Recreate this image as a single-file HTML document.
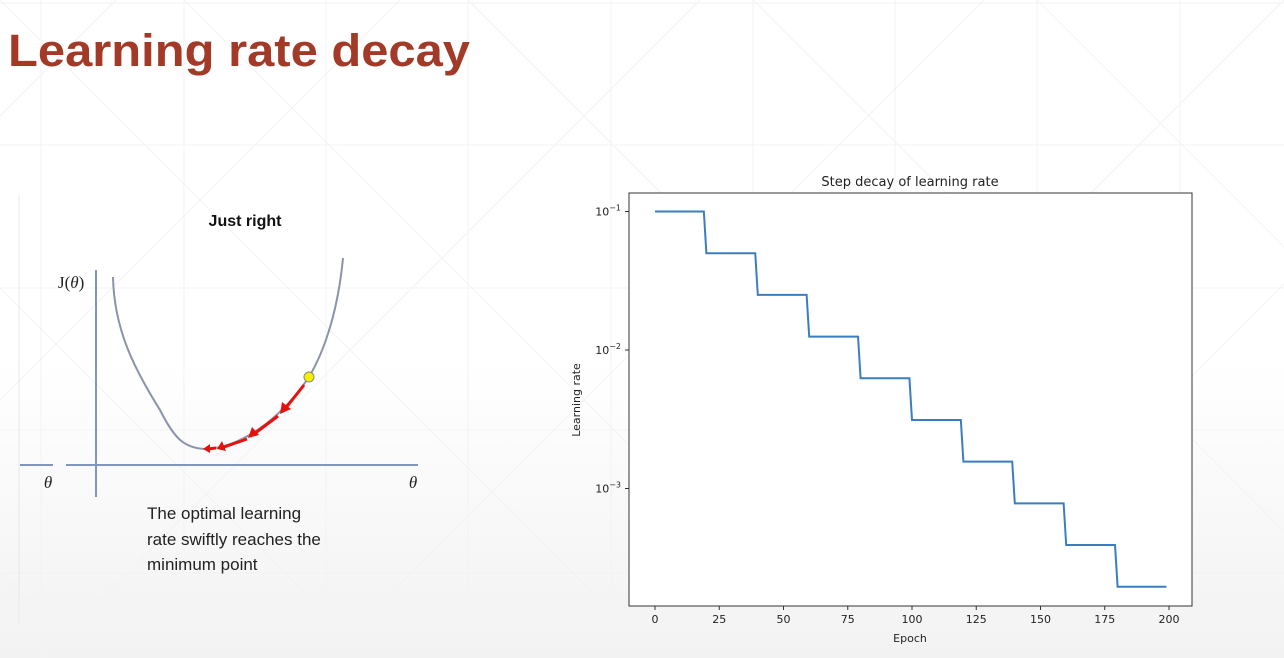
<!DOCTYPE html>
<html><head><meta charset="utf-8"><style>
html,body{margin:0;padding:0;width:1284px;height:658px;overflow:hidden}
body{position:relative;background:linear-gradient(#fff 0%,#fff 55%,#f2f2f2 100%);font-family:"Liberation Sans",sans-serif}
svg{position:absolute;left:0;top:0;display:block}
</style></head><body>
<svg width="1284" height="658">
  <g stroke="#f3f3f3" stroke-width="1" fill="none">
    <path d="M41 0V658M184 0V658M326 0V658M468 0V658M611 0V658M753 0V658M895 0V658M1037 0V658M1180 0V658M0 3H1284M0 145H1284M0 288H1284M0 430H1284M0 573H1284"/>
    <path d="M-100 -100L758 758M184 0L842 658M468 0L1126 658M753 0L1284 531M1037 0L1284 247M-100 188L370 658M-100 472L86 658M800 -100L42 658M1084 -100L326 658M1384 -100L626 658M1384 184L910 658M500 -100L-100 500M216 -100L-100 216"/>
  </g>
  <text x="8" y="66" font-size="45" font-weight="bold" fill="#a33a27" textLength="462" lengthAdjust="spacingAndGlyphs">Learning rate decay</text>

  <g>
    <line x1="19" y1="195" x2="19" y2="625" stroke="#e8e8e8"/>
    <text x="245" y="226" font-size="16" font-weight="bold" text-anchor="middle" fill="#111">Just right</text>
    <text x="58" y="288" font-size="17" font-family="Liberation Serif,serif" fill="#222">J(<tspan font-style="italic">θ</tspan>)</text>
    <line x1="96" y1="270" x2="96" y2="497" stroke="#8096bd" stroke-width="2"/>
    <line x1="66" y1="465" x2="418" y2="465" stroke="#8096bd" stroke-width="2"/>
    <line x1="20" y1="465" x2="53" y2="465" stroke="#8096bd" stroke-width="2"/>
    <text x="48" y="488" font-size="17" font-style="italic" font-family="Liberation Serif,serif" text-anchor="middle" fill="#222">θ</text>
    <text x="413" y="488" font-size="17" font-style="italic" font-family="Liberation Serif,serif" text-anchor="middle" fill="#222">θ</text>
    <path d="M113 277C114 330 135 370 160 410C175 440 185 448 205 449C240 448 280 420 309 377C325 350 338 310 343 258" fill="none" stroke="#8a93a8" stroke-width="2"/>
    <g stroke="#e8100c" stroke-width="3" fill="#e8100c">
      <line x1="304" y1="385" x2="285" y2="409"/><polygon points="280,414 282,402 291,409" stroke="none"/>
      <line x1="278" y1="416" x2="254" y2="434"/><polygon points="248,438 252,427 259,435" stroke="none"/>
      <line x1="247" y1="439" x2="224" y2="447"/><polygon points="217,449 222,441 226,451" stroke="none"/>
      <line x1="216" y1="448" x2="208" y2="449"/><polygon points="203,449 210,444 210,453" stroke="none"/>
    </g>
    <circle cx="309" cy="377" r="5" fill="#f5f000" stroke="#888" stroke-width="1"/>
    <text font-size="17" fill="#222">
      <tspan x="147" y="519">The optimal learning</tspan>
      <tspan x="147" y="545">rate swiftly reaches the</tspan>
      <tspan x="147" y="570">minimum point</tspan>
    </text>
  </g>

  <g id="chart">
    <rect x="629" y="193" width="563" height="413" fill="#fff" stroke="#333" stroke-width="1"/>
    <text x="910" y="186" font-size="13" text-anchor="middle" font-family="DejaVu Sans,sans-serif" fill="#222">Step decay of learning rate</text>
    <text transform="translate(580,400) rotate(-90)" font-size="11" text-anchor="middle" font-family="DejaVu Sans,sans-serif" fill="#222">Learning rate</text>
    <text x="910" y="642" font-size="11" text-anchor="middle" font-family="DejaVu Sans,sans-serif" fill="#222">Epoch</text>
  </g>
</svg>
<script>
const stepStarts=[0,20,40,60,80,100,120,140,160,180];
const stepRates=[0.1,0.05,0.025,0.0125,0.00625,0.003125,0.0015625,0.00078125,0.000390625,0.0001953125];
const lastEpoch=199;
const xTicks=[0,25,50,75,100,125,150,175,200];
const yTickExps=[-1,-2,-3];
const NS='http://www.w3.org/2000/svg';
const g=document.getElementById('chart');
const X=e=>655+e*(1169-655)/200;
const Y=v=>211.5+(-1-Math.log10(v))*138.5;
function mk(t,a){const el=document.createElementNS(NS,t);for(const k in a)el.setAttribute(k,a[k]);g.appendChild(el);return el;}
xTicks.forEach(t=>{
  const l=mk('line',{x1:X(t),x2:X(t),y1:606,y2:610,stroke:'#333'});
  
  
  const tx=mk('text',{x:X(t),y:623,'font-size':11,'text-anchor':'middle','font-family':'DejaVu Sans,sans-serif',fill:'#222'});
  tx.textContent=t;
  
  
});
yTickExps.forEach(e=>{
  const y=Y(Math.pow(10,e));
  const l=mk('line',{x1:625,x2:629,y1:y,y2:y,stroke:'#333'});
  
  
  const tx=mk('text',{x:621,y:y+4,'font-size':11,'text-anchor':'end','font-family':'DejaVu Sans,sans-serif',fill:'#222'});
  tx.innerHTML='10<tspan dy="-5" font-size="8">−'+(-e)+'</tspan>';
  
  
});
let d='';
stepStarts.forEach((s,i)=>{
  const end=i<stepStarts.length-1?stepStarts[i+1]-1:lastEpoch;
  d+=(i===0?'M':'L')+X(s)+' '+Y(stepRates[i])+'L'+X(end)+' '+Y(stepRates[i]);
});
const p=mk('path',{d:d,fill:'none',stroke:'#3b7ec0','stroke-width':2});


</script>
</body></html>
